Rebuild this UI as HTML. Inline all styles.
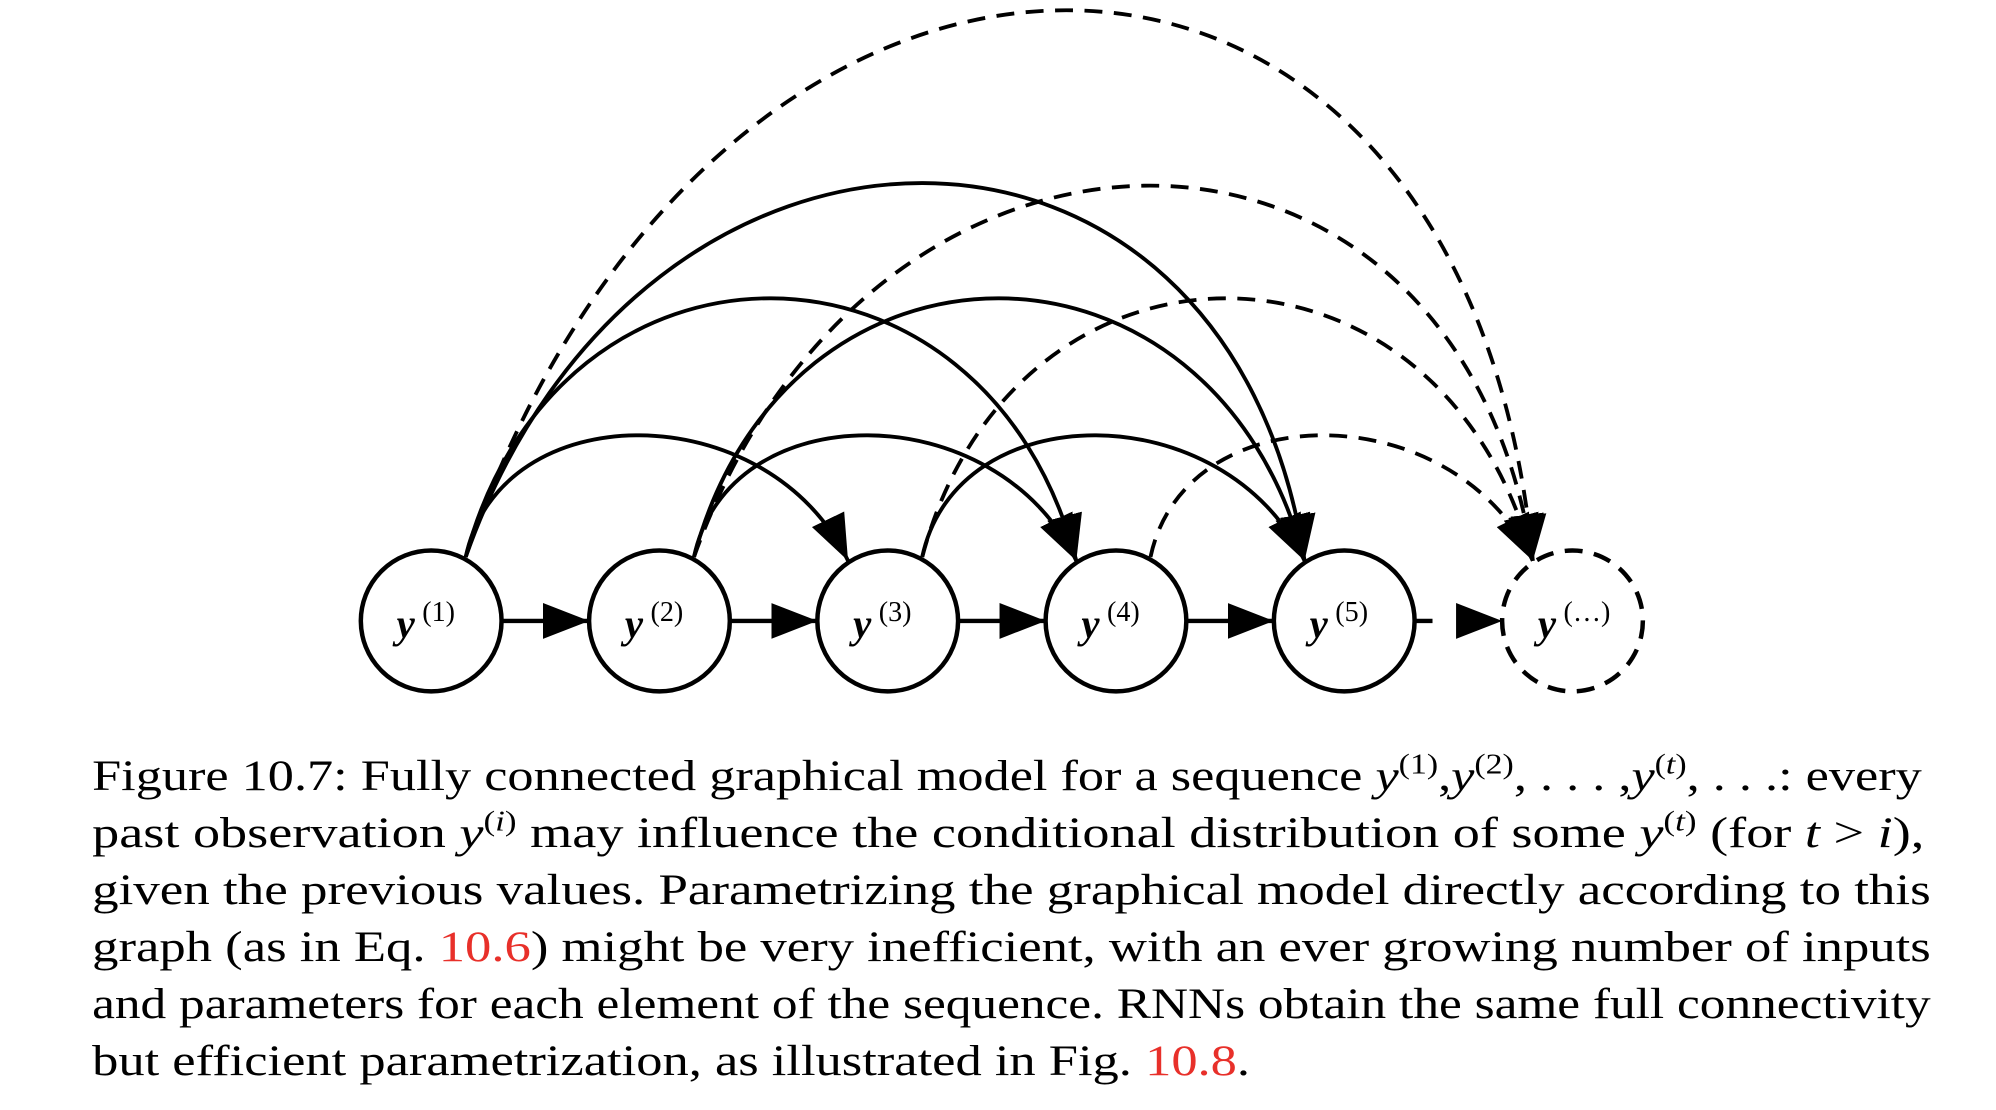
<!DOCTYPE html>
<html><head><meta charset="utf-8"><style>
html,body{margin:0;padding:0;background:#fff;}
svg{display:block;}
</style></head><body>
<svg id="fig" width="1996" height="1110" viewBox="0 0 1560 867" preserveAspectRatio="none" xmlns="http://www.w3.org/2000/svg">
<defs>
<marker id="ah" viewBox="0 0 36 28" refX="36" refY="14" markerWidth="36" markerHeight="28" markerUnits="userSpaceOnUse" orient="auto">
<path d="M0,0 L36,14 L0,28 Z" fill="#000"/>
</marker>
</defs>
<g id="edges"></g>
<g id="chain"></g>
<g id="nodes"></g>
<g font-family="Liberation Serif, serif" font-size="34" fill="#000">
<text x="72" y="617" textLength="1430" lengthAdjust="spacingAndGlyphs">Figure 10.7: Fully connected graphical model for a sequence <tspan font-style="italic">y</tspan><tspan font-size="22" dy="-13">(1)</tspan><tspan dy="13">,</tspan><tspan font-style="italic">y</tspan><tspan font-size="22" dy="-13">(2)</tspan><tspan dy="13">, . . . ,</tspan><tspan font-style="italic">y</tspan><tspan font-size="22" dy="-13">(<tspan font-style="italic">t</tspan>)</tspan><tspan dy="13">, . . .: every</tspan></text>
<text x="72" y="661.5" textLength="1432" lengthAdjust="spacingAndGlyphs">past observation <tspan font-style="italic">y</tspan><tspan font-size="22" dy="-13">(<tspan font-style="italic">i</tspan>)</tspan><tspan dy="13"> may influence the conditional distribution of some </tspan><tspan font-style="italic">y</tspan><tspan font-size="22" dy="-13">(<tspan font-style="italic">t</tspan>)</tspan><tspan dy="13"> (for </tspan><tspan font-style="italic">t</tspan> &gt; <tspan font-style="italic">i</tspan>),</text>
<text x="72" y="706" textLength="1437" lengthAdjust="spacingAndGlyphs">given the previous values. Parametrizing the graphical model directly according to this</text>
<text x="72" y="750.5" textLength="1437" lengthAdjust="spacingAndGlyphs">graph (as in Eq. <tspan fill="#e8302a">10.6</tspan>) might be very inefficient, with an ever growing number of inputs</text>
<text x="72" y="795" textLength="1437" lengthAdjust="spacingAndGlyphs">and parameters for each element of the sequence. RNNs obtain the same full connectivity</text>
<text x="72" y="839.5" textLength="905" lengthAdjust="spacingAndGlyphs">but efficient parametrization, as illustrated in Fig. <tspan fill="#e8302a">10.8</tspan>.</text>
</g>
</svg>
<script>
const nodeLabels = ['(1)','(2)','(3)','(4)','(5)','(...)'];
const nodeDashed = [false,false,false,false,false,true];
const edgeFrom = [0,0,0,0,1,1,1,2,2,3];
const edgeTo   = [2,3,4,5,3,4,5,4,5,5];
const edgePeak = [340,233,143,8,340,233,145,340,233,340];
const edgeDashed = [false,false,false,true,false,false,true,false,true,true];

const NS='http://www.w3.org/2000/svg';
const x0=337, dx=178.4, cy=485, R=55;
const skewBySpan=[0,0,-0.12,0,0.12,0.17];
function nx(i){return x0+i*dx;}
function mk(tag,attrs,parent){const e=document.createElementNS(NS,tag);for(const k in attrs)e.setAttribute(k,attrs[k]);parent.appendChild(e);return e;}

const eg=document.getElementById('edges');
edgeFrom.forEach((f,k)=>{
  const t=edgeTo[k];
  const sx=nx(f)+27, sy=cy-50;
  const ex=nx(t)-31, ey=cy-47;
  const c=(edgePeak[k]-0.125*(sy+ey))/0.75;
  const w=ex-sx;
  const d=skewBySpan[t-f];
  const a=0.15+d/2, b=0.15-d/2;
  const p=mk('path',{d:`M${sx},${sy} C${sx+a*w},${c} ${ex-b*w},${c} ${ex},${ey}`,fill:'none',stroke:'#000','stroke-width':3,'marker-end':'url(#ah)'},eg);
  if(edgeDashed[k]) p.setAttribute('stroke-dasharray','14,9');
  
  
});

const cg=document.getElementById('chain');
for(let i=0;i<nodeLabels.length-1;i++){
  const p=mk('path',{d:`M${nx(i)+R},${cy} L${nx(i+1)-R},${cy}`,stroke:'#000','stroke-width':3.5,fill:'none','marker-end':'url(#ah)'},cg);
  if(nodeDashed[i+1]) p.setAttribute('stroke-dasharray','14,20');
  
  
}

const ng=document.getElementById('nodes');
nodeLabels.forEach((lab,i)=>{
  const g=mk('g',{},ng);
  
  
  const c=mk('circle',{cx:nx(i),cy:cy,r:R,fill:'#fff',stroke:'#000','stroke-width':3.5},g);
  if(nodeDashed[i]) c.setAttribute('stroke-dasharray','14,9');
  const t=mk('text',{x:nx(i)-27,y:cy+13,'font-family':'Liberation Serif, serif','font-size':32,'font-style':'italic','font-weight':'bold'},g);
  t.textContent='y';
  const s=mk('text',{x:nx(i)-7,y:cy,'font-family':'Liberation Serif, serif','font-size':22},g);
  s.textContent=lab==='(...)'?'(…)':lab;
  
  
  
  
});
</script>
</body></html>
